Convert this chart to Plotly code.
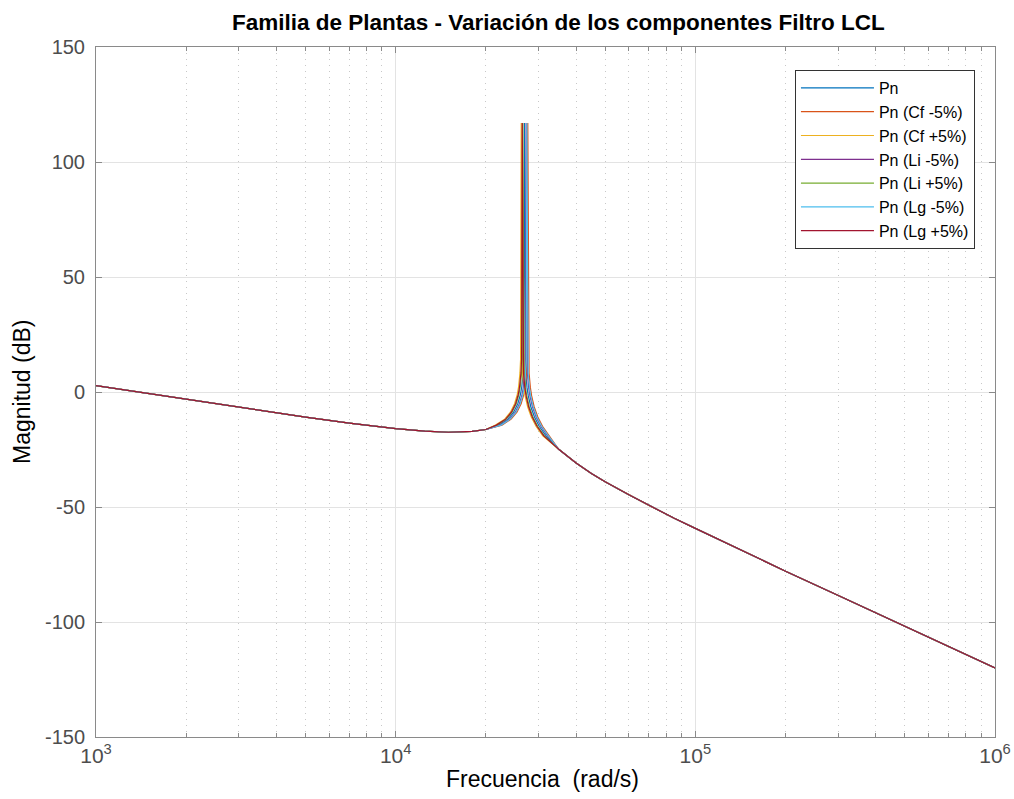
import plotly.graph_objects as go

# Frequency response magnitude of the LCL filter plant family (rad/s, dB)

# Shared low-frequency part (below the resonance region)
freq_low = [1000, 2000, 3000, 5000, 7000, 10000, 12500, 15000, 18000, 20000]
mag_low = [2.8, -3.2, -6.6, -10.9, -13.5, -15.9, -17.0, -17.5, -17.1, -16.3]

# Shared high-frequency part (above the resonance region)
freq_high = [35000, 40000, 45000, 50000, 60000, 70000, 85000, 100000,
             150000, 200000, 300000, 500000, 1000000]
mag_high = [-24.9, -30.9, -35.4, -39.0, -44.7, -49.3, -54.9, -59.3,
            -70.3, -77.9, -88.5, -102.0, -120.0]

# Resonance region magnitudes (same shape for every plant)
mag_res = [-14.4, -11.8, -8.8, -5.1, -1.0, 2.4, 8.3, 14.3, 117.0,
           14.1, 8.1, 1.9, -1.7, -6.4, -10.9, -14.9, -19.1]

# Resonance region frequencies for each plant
freq_pn = [22058, 23672, 24748, 25555, 26093, 26362, 26631, 26766, 26900,
           27035, 27169, 27438, 27707, 28245, 29052, 30128, 31742]
freq_cf_m5 = [22632, 24288, 25392, 26220, 26772, 27048, 27324, 27462, 27600,
              27738, 27876, 28152, 28428, 28980, 29808, 30912, 32568]
freq_cf_p5 = [21525, 23100, 24150, 24938, 25463, 25725, 25988, 26119, 26250,
              26381, 26513, 26775, 27038, 27563, 28350, 29400, 30975]
freq_li_m5 = [22345, 23980, 25070, 25888, 26433, 26705, 26978, 27114, 27250,
              27386, 27523, 27795, 28068, 28613, 29430, 30520, 32155]
freq_li_p5 = [21796, 23390, 24454, 25251, 25783, 26048, 26314, 26447, 26580,
              26713, 26846, 27112, 27377, 27909, 28706, 29770, 31364]
freq_lg_m5 = [22468, 24112, 25208, 26030, 26578, 26852, 27126, 27263, 27400,
              27537, 27674, 27948, 28222, 28770, 29592, 30688, 32332]
freq_lg_p5 = [21689, 23276, 24334, 25128, 25657, 25921, 26186, 26318, 26450,
              26583, 26715, 26979, 27244, 27773, 28566, 29624, 31211]

names = ["Pn", "Pn (Cf -5%)", "Pn (Cf +5%)", "Pn (Li -5%)",
         "Pn (Li +5%)", "Pn (Lg -5%)", "Pn (Lg +5%)"]
res_freqs = [freq_pn, freq_cf_m5, freq_cf_p5, freq_li_m5,
             freq_li_p5, freq_lg_m5, freq_lg_p5]
colors = ["#0072BD", "#D95319", "#EDB120", "#7E2F8E",
          "#77AC30", "#4DBEEE", "#A2142F"]

x_ticks = [1e3, 1e4, 1e5, 1e6]
x_tick_text = ["10<sup>3</sup>", "10<sup>4</sup>", "10<sup>5</sup>", "10<sup>6</sup>"]
y_ticks = [-150, -100, -50, 0, 50, 100, 150]
y_tick_text = ["-150", "-100", "-50", "0", "50", "100", "150"]

fig = go.Figure()
for name, fr, col in zip(names, res_freqs, colors):
    fig.add_trace(go.Scatter(
        x=freq_low + fr + freq_high,
        y=mag_low + mag_res + mag_high,
        mode="lines", name=name,
        line=dict(color=col, width=1.2),
    ))

font_family = "Liberation Sans, Arial, Helvetica, sans-serif"
axis_col = "#8a8a8a"
grid_col = "#e3e3e3"
tick_col = "#4d4d4d"

fig.update_layout(
    width=1014, height=799,
    margin=dict(l=96, r=19, t=47, b=62, autoexpand=False),
    paper_bgcolor="white", plot_bgcolor="white",
    font=dict(family=font_family, color=tick_col, size=19),
    showlegend=True,
    legend=dict(
        x=0.9777, y=0.9667, xanchor="right", yanchor="top",
        bgcolor="white", bordercolor="#333333", borderwidth=1,
        font=dict(size=16, color="black", family=font_family),
        tracegroupgap=0, itemwidth=73,
    ),
    annotations=[
        dict(text="<b>Familia de Plantas - Variación de los componentes Filtro LCL</b>",
             xref="paper", yref="paper", x=0.514, y=1.0, yshift=25,
             xanchor="center", yanchor="middle", showarrow=False,
             font=dict(size=22.5, color="black", family=font_family)),
        dict(text="Frecuencia\u00a0 (rad/s)",
             xref="paper", yref="paper", x=0.497, y=0.0, yshift=-42,
             xanchor="center", yanchor="middle", showarrow=False,
             font=dict(size=23, color="black", family=font_family)),
        dict(text="Magnitud (dB)", textangle=-90,
             xref="paper", yref="paper", x=0.0, y=0.5, xshift=-74,
             xanchor="center", yanchor="middle", showarrow=False,
             font=dict(size=23, color="black", family=font_family)),
    ],
)

fig.update_xaxes(
    type="log", range=[3, 6], automargin=False,
    tickmode="array", tickvals=x_ticks, ticktext=x_tick_text,
    ticklabeloverflow="allow",
    showline=True, linecolor=axis_col, linewidth=1, mirror="allticks",
    ticks="inside", ticklen=6, tickcolor=axis_col,
    showgrid=True, gridcolor=grid_col, gridwidth=1,
    zeroline=False,
    tickfont=dict(size=21, color=tick_col),
    minor=dict(tickmode="array",
               tickvals=[m * d for d in (1e3, 1e4, 1e5) for m in range(2, 10)],
               ticks="inside", ticklen=4, tickcolor=axis_col,
               showgrid=True, gridcolor="#c8c8c8", griddash="1px,5px",
               gridwidth=1),
)

fig.update_yaxes(
    range=[-150, 150], automargin=False,
    tickmode="array", tickvals=y_ticks, ticktext=y_tick_text,
    ticklabelstandoff=6,
    showline=True, linecolor=axis_col, linewidth=1, mirror="allticks",
    ticks="inside", ticklen=6, tickcolor=axis_col,
    showgrid=True, gridcolor=grid_col, gridwidth=1,
    zeroline=False,
    tickfont=dict(size=20, color=tick_col),
)

fig.write_html("out.html")
